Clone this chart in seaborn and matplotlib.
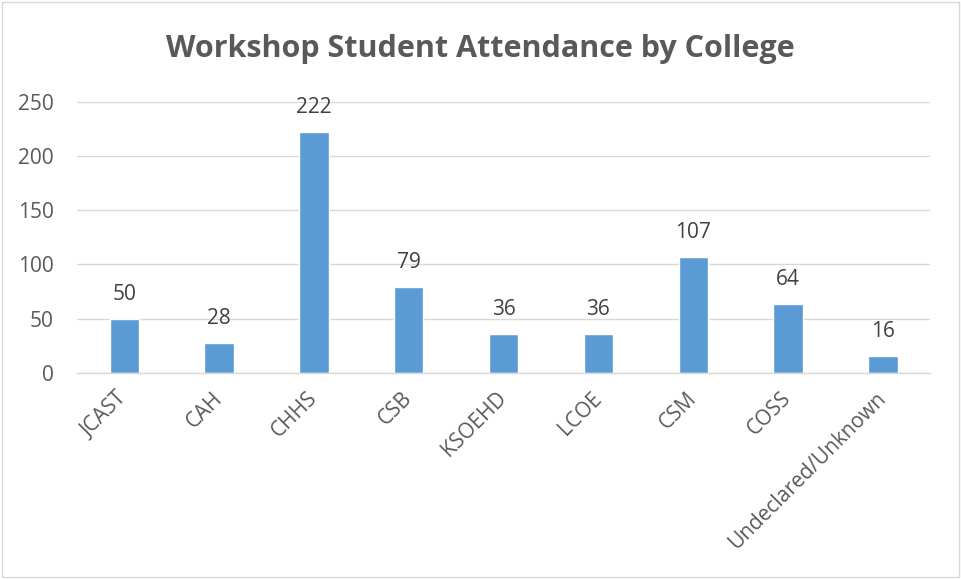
import matplotlib
matplotlib.use("Agg")
import matplotlib.pyplot as plt
import seaborn as sns
import pandas as pd
from matplotlib.patches import Rectangle

colleges = ["JCAST", "CAH", "CHHS", "CSB", "KSOEHD", "LCOE", "CSM", "COSS", "Undeclared/Unknown"]
attendance = [50, 28, 222, 79, 36, 36, 107, 64, 16]
y_ticks = [0, 50, 100, 150, 200, 250]
title = "Workshop Student Attendance by College"

sns.set_style("white")
plt.rcParams['font.family'] = ['Open Sans', 'DejaVu Sans']

df = pd.DataFrame({"college": colleges, "attendance": attendance})

fig = plt.figure(figsize=(9.61, 5.79), dpi=100)
ax = fig.add_axes([0.080, 0.356, 0.888, 0.468])

sns.barplot(data=df, x="college", y="attendance", color="#5B9BD5", width=0.31,
            saturation=1, ax=ax)

txt = "#595959"
ax.set_ylim(0, 250)
ax.set_yticks(y_ticks)
ax.yaxis.grid(True, color="#D9D9D9", linewidth=1)
ax.set_axisbelow(True)
for s in ["top", "right", "left"]:
    ax.spines[s].set_visible(False)
ax.spines["bottom"].set_color("#D9D9D9")
ax.spines["bottom"].set_linewidth(1)
ax.set_xlabel("")
ax.set_ylabel("")
ax.tick_params(axis="both", length=0, labelsize=15, colors=txt)
ax.tick_params(axis="y", pad=16.5)
plt.setp(ax.get_xticklabels(), rotation=45, ha="right", va="center", rotation_mode="anchor")
ax.tick_params(axis="x", pad=16)

for c in ax.containers:
    ax.bar_label(c, labels=[str(v) for v in attendance], padding=10, fontsize=15, color="#404040")

fig.text(0.5, 0.915, title, ha="center", va="center", fontsize=22, fontweight="bold", color=txt)

fig.patches.append(Rectangle((0.002, 0.003), 0.996, 0.994, transform=fig.transFigure,
                             fill=False, edgecolor="#D9D9D9", linewidth=1))

fig.savefig("out.png", dpi=100)
